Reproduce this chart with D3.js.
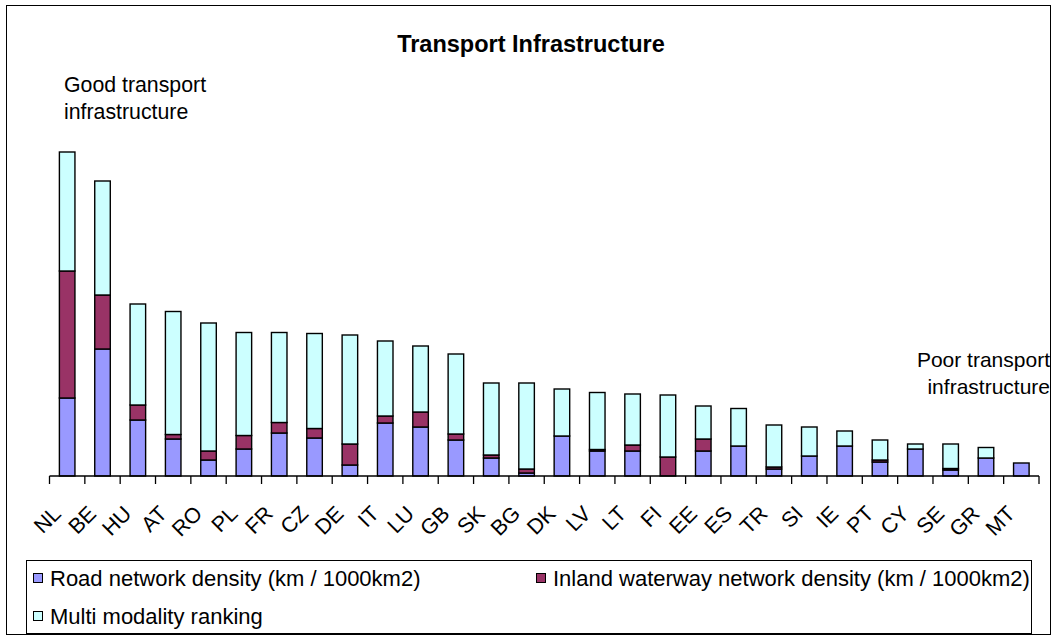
<!DOCTYPE html>
<html>
<head>
<meta charset="utf-8">
<script src="https://cdn.jsdelivr.net/npm/d3@7"></script>
<style>
  html, body { margin: 0; padding: 0; background: #fff; }
  svg { display: block; font-family: Arial, "Liberation Sans", sans-serif; }
</style>
</head>
<body>
<svg id="chart" width="1054" height="637"></svg>
<script>
// Countries, ordered from best to poorest transport infrastructure
const countries = ["NL","BE","HU","AT","RO","PL","FR","CZ","DE","IT","LU","GB","SK","BG",
                   "DK","LV","LT","FI","EE","ES","TR","SI","IE","PT","CY","SE","GR","MT"];

// Stacked component scores (index points)
const roadDensity = [78,127,56,37,16,27,43,38,11,53,49,36,18,3,
                     40,25,25,0,25,30,7,20,30,14,27,6,18,13];
const waterwayDensity = [127,54,15,4.5,9,13.5,10.5,9.5,21,7,15,6,3,4,
                         0,1.5,6,19,12,0,2,0,0,2,0,1.5,0,0];
const multiModality = [119,114,101,123,128,103,90,95,109,75,66,80,72,86,
                       47,57,51,62,33,37.5,42,29,15,20,5,24.5,10.5,0];

const seriesNames = ["Road network density (km / 1000km2)",
                     "Inland waterway network density (km / 1000km2)",
                     "Multi modality ranking"];
const seriesColors = ["#9999FF", "#993366", "#CCFFFF"];

const rows = countries.map((c, i) => ({
  country: c, road: roadDensity[i], water: waterwayDensity[i], multi: multiModality[i]
}));
const keys = ["road", "water", "multi"];

const svg = d3.select("#chart");

// Chart frame
svg.append("rect")
  .attr("x", 6.5).attr("y", 5.5).attr("width", 1044).attr("height", 629)
  .attr("fill", "#fff").attr("stroke", "#000").attr("stroke-width", 1);

// Scales
const x = d3.scaleBand().domain(countries).range([49.5, 1039])
  .paddingInner(0.56).paddingOuter(0.28);
const y = d3.scaleLinear().domain([0, 330]).range([476, 146]);

const stack = d3.stack().keys(keys)(rows);

// Bars
const g = svg.append("g");
g.selectAll("g.series").data(stack).join("g")
  .attr("class", "series")
  .attr("fill", (d, i) => seriesColors[i])
  .selectAll("rect")
  .data(d => d.filter(p => p[1] - p[0] > 0))
  .join("rect")
  .attr("x", d => x(d.data.country))
  .attr("width", x.bandwidth())
  .attr("y", d => y(d[1]))
  .attr("height", d => y(d[0]) - y(d[1]))
  .attr("stroke", "#000").attr("stroke-width", 1.4);

// Category axis with ticks between categories
const step = x.step();
const x0 = x.range()[0];
const axis = svg.append("g");
axis.append("line")
  .attr("x1", x0).attr("x2", x.range()[1])
  .attr("y1", y(0)).attr("y2", y(0))
  .attr("stroke", "#000").attr("stroke-width", 1.3);
axis.selectAll("line.tick").data(d3.range(countries.length + 1)).join("line")
  .attr("class", "tick")
  .attr("x1", i => x0 + i * step).attr("x2", i => x0 + i * step)
  .attr("y1", y(0)).attr("y2", y(0) + 8)
  .attr("stroke", "#000").attr("stroke-width", 1.3);
axis.selectAll("text").data(countries).join("text")
  .attr("transform", d => `translate(${x(d) + x.bandwidth() / 2 - 5},515) rotate(-45)`)
  .attr("text-anchor", "end")
  .attr("font-size", 21.5)
  .attr("fill", "#000")
  .text(d => d);

// Title
svg.append("text")
  .attr("x", 531).attr("y", 52)
  .attr("text-anchor", "middle")
  .attr("font-size", 23.5).attr("font-weight", "bold")
  .text("Transport Infrastructure");

// Annotations
const good = svg.append("text").attr("font-size", 21.3);
good.append("tspan").attr("x", 64).attr("y", 92).text("Good transport");
good.append("tspan").attr("x", 64).attr("y", 119).text("infrastructure");

const poor = svg.append("text").attr("font-size", 21).attr("text-anchor", "end");
poor.append("tspan").attr("x", 1050).attr("y", 367).text("Poor transport");
poor.append("tspan").attr("x", 1050).attr("y", 394).text("infrastructure");

// Legend
const legend = svg.append("g");
legend.append("rect")
  .attr("x", 26.5).attr("y", 560.5).attr("width", 1005).attr("height", 73)
  .attr("fill", "#fff").attr("stroke", "#000").attr("stroke-width", 1);
const legendPos = [[33, 586], [536, 586], [33, 624]];
const items = legend.selectAll("g.item").data(seriesNames).join("g")
  .attr("class", "item")
  .attr("transform", (d, i) => `translate(${legendPos[i][0]},${legendPos[i][1]})`);
items.append("rect")
  .attr("x", 0.5).attr("y", -12.5).attr("width", 9).attr("height", 9)
  .attr("fill", (d, i) => seriesColors[i])
  .attr("stroke", "#000").attr("stroke-width", 1);
items.append("text")
  .attr("x", 17).attr("y", 0)
  .attr("font-size", 22)
  .text(d => d);
</script>
</body>
</html>
